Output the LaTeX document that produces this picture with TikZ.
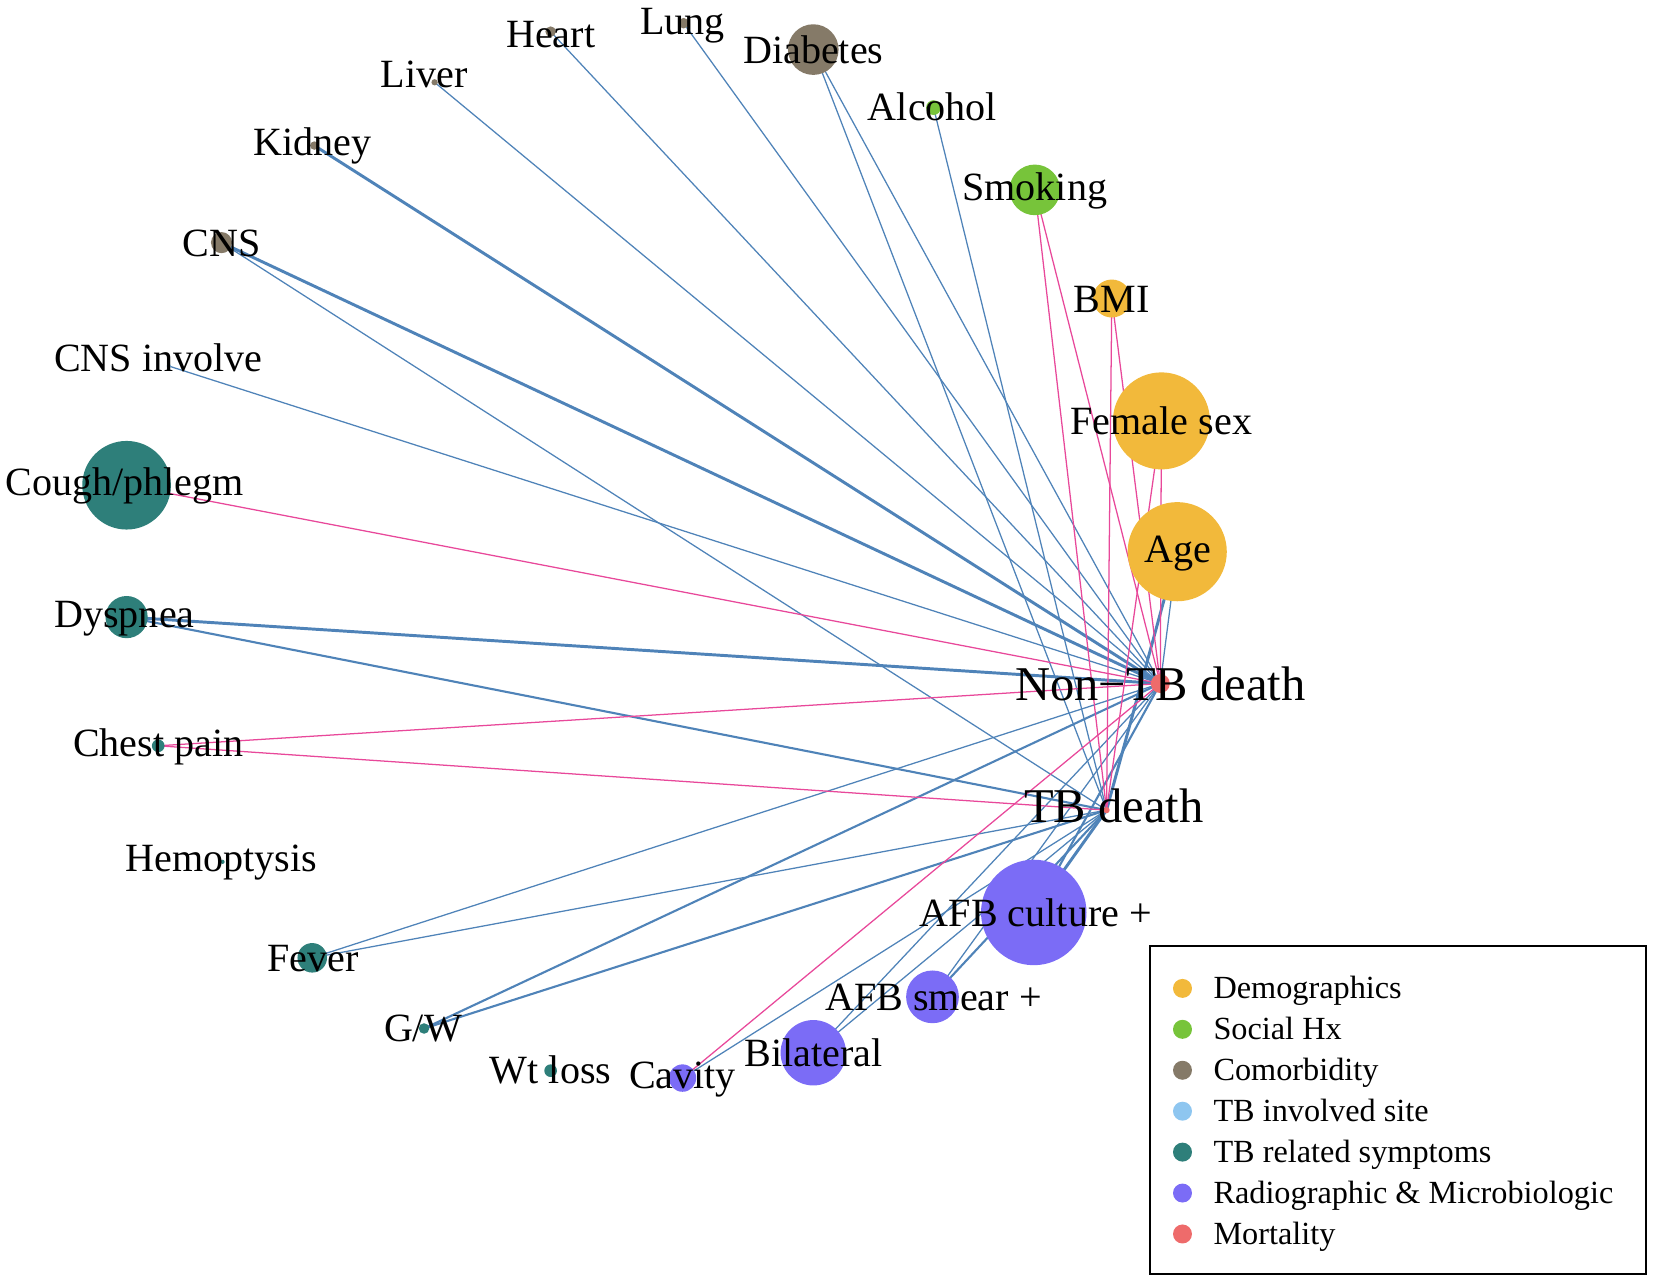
\documentclass[tikz,border=0pt]{standalone}
\usepackage{fontspec}
\setmainfont{Liberation Serif}
\definecolor{demo}{HTML}{F2B93B}
\definecolor{social}{HTML}{77C43A}
\definecolor{comor}{HTML}{857A68}
\definecolor{site}{HTML}{8EC6F0}
\definecolor{symp}{HTML}{2E7F7A}
\definecolor{radio}{HTML}{7B6CF6}
\definecolor{mort}{HTML}{EE6B6B}
\definecolor{pos}{HTML}{4F83B8}
\definecolor{neg}{HTML}{E8489A}
\begin{document}
\begin{tikzpicture}[x=0.5pt,y=-0.5pt,
  dot/.style={circle,inner sep=0pt,draw=none},
  lbl/.style={anchor=base,inner sep=0pt,font=\fontsize{19}{19}\selectfont},
  biglbl/.style={anchor=base,inner sep=0pt,font=\fontsize{23}{23}\selectfont},
  leglbl/.style={anchor=base west,inner sep=0pt,font=\fontsize{15.3}{15.3}\selectfont},
  pe/.style={draw=pos,line width=0.6pt},
  pem/.style={draw=pos,line width=1.0pt},
  pet/.style={draw=pos,line width=1.4pt},
  ne/.style={draw=neg,line width=0.6pt}]
\useasboundingbox (0,0) rectangle (1568,1216);
% node centres
\coordinate (heart) at (522,30);
\coordinate (lung) at (648,22);
\coordinate (diab) at (771,47);
\coordinate (alc) at (885,102);
\coordinate (smok) at (981,180);
\coordinate (bmi) at (1054,283);
\coordinate (fem) at (1101,399);
\coordinate (age) at (1116,523);
\coordinate (ntb) at (1100,648);
\coordinate (tb) at (1049,768);
\coordinate (afbc) at (980,865);
\coordinate (afbs) at (884,945);
\coordinate (bilat) at (771,998);
\coordinate (cav) at (647,1022);
\coordinate (wt) at (522,1015);
\coordinate (gw) at (402,975);
\coordinate (fever) at (296,908);
\coordinate (hemo) at (211,817);
\coordinate (chest) at (150,707);
\coordinate (dysp) at (120,585);
\coordinate (cough) at (120,460);
\coordinate (cnsinv) at (160,347);
\coordinate (cns) at (210,230);
\coordinate (kidney) at (298,138);
\coordinate (liver) at (412,78);
% edges
\draw[pe] (liver) -- (ntb);
\draw[pe] (heart) -- (ntb);
\draw[pe] (lung) -- (ntb);
\draw[pe] (diab) -- (ntb);
\draw[pe] (diab) -- (tb);
\draw[pe] (alc) -- (tb);
\draw[pe] (cnsinv) -- (ntb);
\draw[pe] (cns) -- (tb);
\draw[pet] (kidney) -- (ntb);
\draw[pet] (cns) -- (ntb);
\draw[pet] (dysp) -- (ntb);
\draw[pem] (dysp) -- (tb);
\draw[pe] (fever) -- (ntb);
\draw[pe] (fever) -- (tb);
\draw[pem] (gw) -- (ntb);
\draw[pem] (gw) -- (tb);
\draw[pe] (cav) -- (tb);
\draw[pe] (bilat) -- (ntb);
\draw[pe] (bilat) -- (tb);
\draw[pe] (afbs) -- (ntb);
\draw[pem] (afbs) -- (tb);
\draw[pem] (afbc) -- (ntb);
\draw[pet] (afbc) -- (tb);
\draw[pe] (age) -- (ntb);
\draw[pet] (age) -- (tb);
\draw[ne] (smok) -- (ntb);
\draw[ne] (smok) -- (tb);
\draw[ne] (bmi) -- (ntb);
\draw[ne] (bmi) -- (tb);
\draw[ne] (fem) -- (ntb);
\draw[ne] (fem) -- (tb);
\draw[ne] (cough) -- (ntb);
\draw[ne] (chest) -- (ntb);
\draw[ne] (chest) -- (tb);
\draw[ne] (cav) -- (ntb);
% circles
\node[dot,fill=comor,minimum size=5pt] (nheart) at (heart) {};
\node[dot,fill=comor,minimum size=5pt] (nlung) at (lung) {};
\node[dot,fill=comor,minimum size=24pt] (ndiab) at (diab) {};
\node[dot,fill=social,minimum size=7pt] (nalc) at (alc) {};
\node[dot,fill=social,minimum size=24pt] (nsmok) at (smok) {};
\node[dot,fill=demo,minimum size=18pt] (nbmi) at (bmi) {};
\node[dot,fill=demo,minimum size=46pt] (nfem) at (fem) {};
\node[dot,fill=demo,minimum size=47pt] (nage) at (age) {};
\node[dot,fill=mort,minimum size=9pt] (nntb) at (ntb) {};
\node[dot,fill=mort,minimum size=3pt] (ntbd) at (tb) {};
\node[dot,fill=radio,minimum size=50pt] (nafbc) at (afbc) {};
\node[dot,fill=radio,minimum size=25pt] (nafbs) at (afbs) {};
\node[dot,fill=radio,minimum size=31pt] (nbilat) at (bilat) {};
\node[dot,fill=radio,minimum size=13pt] (ncav) at (cav) {};
\node[dot,fill=symp,minimum size=6pt] (nwt) at (wt) {};
\node[dot,fill=symp,minimum size=5pt] (ngw) at (gw) {};
\node[dot,fill=symp,minimum size=14pt] (nfever) at (fever) {};
\node[dot,fill=symp,minimum size=2pt] (nhemo) at (hemo) {};
\node[dot,fill=symp,minimum size=6pt] (nchest) at (chest) {};
\node[dot,fill=symp,minimum size=20pt] (ndysp) at (dysp) {};
\node[dot,fill=symp,minimum size=42pt] (ncough) at (cough) {};
\node[dot,fill=site,minimum size=2pt] (ncnsinv) at (cnsinv) {};
\node[dot,fill=comor,minimum size=10pt] (ncns) at (cns) {};
\node[dot,fill=comor,minimum size=4pt] (nkidney) at (kidney) {};
\node[dot,fill=comor,minimum size=3pt] (nliver) at (liver) {};
% labels
\node[lbl] (theart) at (522,45) {Heart};
\node[lbl] (tlung) at (647,33) {Lung};
\node[lbl] (tdiab) at (771,60) {Diabetes};
\node[lbl] (talc) at (884,114) {Alcohol};
\node[lbl] (tsmok) at (981,190) {Smoking};
\node[lbl] (tliver) at (402,83) {Liver};
\node[lbl] (tkidney) at (296,147) {Kidney};
\node[lbl] (tcns) at (210,243) {CNS};
\node[lbl] (tcnsinv) at (150,352) {CNS involve};
\node[lbl] (tbmi) at (1054,296) {BMI};
\node[lbl] (tfem) at (1101,412) {Female sex};
\node[lbl] (tage) at (1117,533) {Age};
\node[lbl] (tcough) at (118,470) {Cough/phlegm};
\node[lbl] (tdysp) at (118,595) {Dyspnea};
\node[biglbl] (tntb) at (1100,664) {Non−TB death};
\node[lbl] (tchest) at (150,717) {Chest pain};
\node[biglbl] (ttb) at (1056,780) {TB death};
\node[lbl] (themo) at (210,826) {Hemoptysis};
\node[lbl] (tafbc) at (982,878) {AFB culture +};
\node[lbl] (tfever) at (297,921) {Fever};
\node[lbl] (tafbs) at (885,958) {AFB smear +};
\node[lbl] (tgw) at (401,987) {G/W};
\node[lbl] (tbilat) at (771,1011) {Bilateral};
\node[lbl] (twt) at (522,1027) {Wt loss};
\node[lbl] (tcav) at (647,1032) {Cavity};
% legend
\node[draw=black,line width=1pt,minimum width=235pt,minimum height=155.5pt,inner sep=0pt] (legend) at (1325,1052.5) {};
\foreach \c/\t [count=\i from 0] in {demo/Demographics,social/Social Hx,comor/Comorbidity,site/TB involved site,symp/TB related symptoms,radio/Radiographic \& Microbiologic,mort/Mortality}{
  \node[dot,fill=\c,minimum size=9pt] (ld\i) at (1121,937+38.8*\i) {};
  \node[leglbl] (lt\i) at (1150,947+38.8*\i) {\t};
}
\end{tikzpicture}
\end{document}
